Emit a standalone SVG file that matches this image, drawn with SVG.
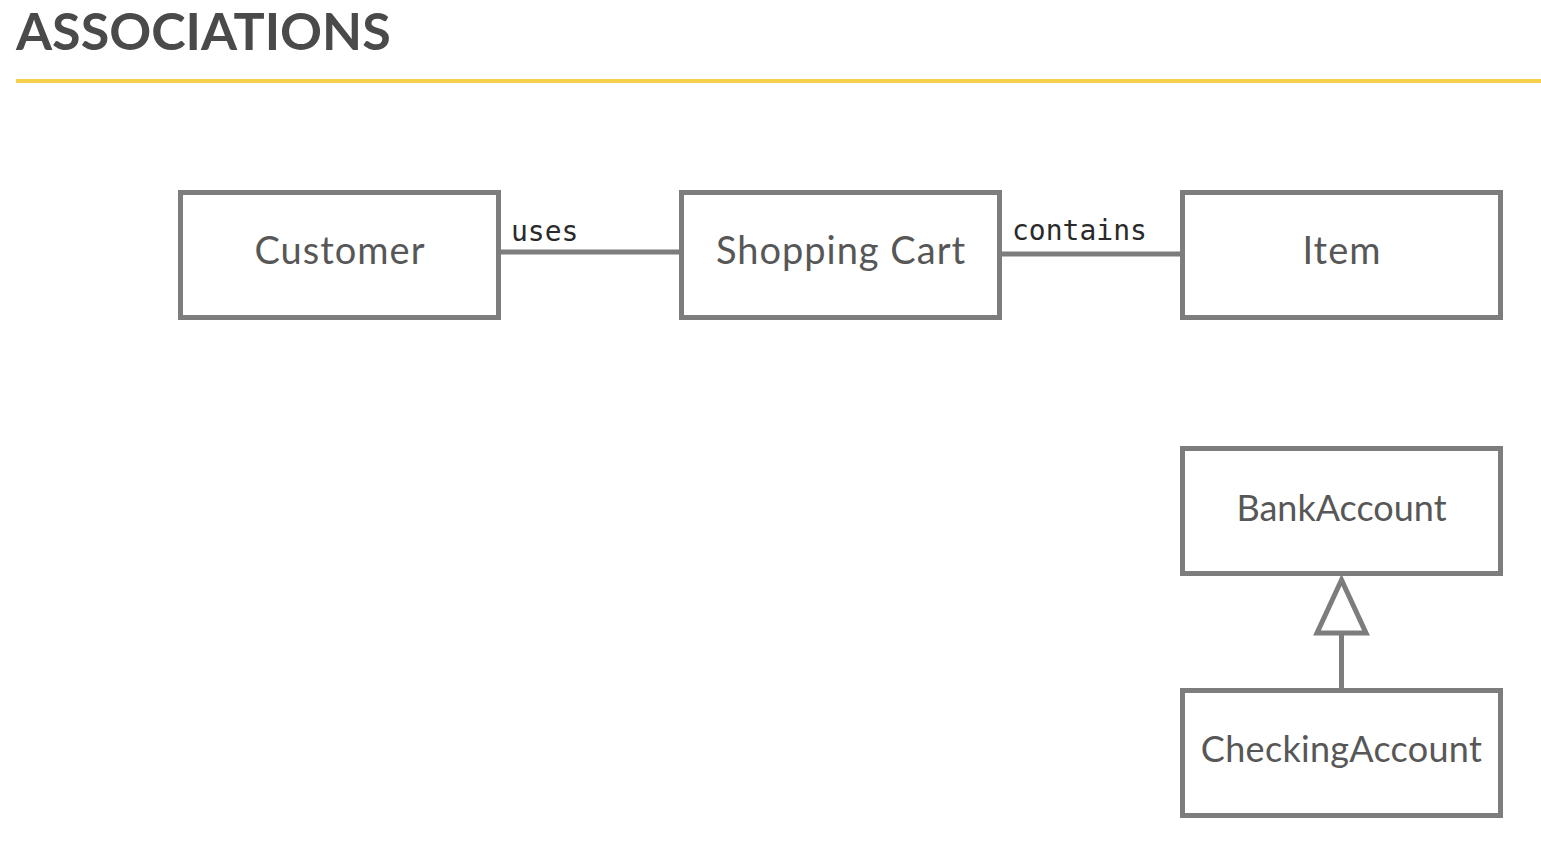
<svg xmlns="http://www.w3.org/2000/svg" width="1541" height="845" viewBox="0 0 1541 845">
<style>
.box{fill:#fff;stroke:#7d7d7d;stroke-width:5}
.lbl{font-family:Lato,"Noto Sans",sans-serif;font-size:36px;fill:#575757;text-anchor:middle}
.big{font-size:38px;letter-spacing:1px}
.rel{font-family:"DejaVu Sans Mono","Liberation Mono",monospace;font-size:28px;fill:#2a2a2a}
.con{stroke:#7d7d7d;stroke-width:5;fill:none}
</style>
<rect width="1541" height="845" fill="#fff"/>
<text x="16" y="50" font-family="Lato,'Noto Sans',sans-serif" font-size="52" font-weight="700" fill="#4a4a4a">ASSOCIATIONS</text>
<line x1="16" y1="81" x2="1541" y2="81" stroke="#f6cf4a" stroke-width="4"/>
<g id="customer"><rect class="box" x="180.5" y="192.5" width="318" height="125"/><text class="lbl big" x="340" y="264">Customer</text></g>
<g id="cart"><rect class="box" x="681.5" y="192.5" width="318" height="125"/><text class="lbl big" x="841" y="264">Shopping Cart</text></g>
<g id="item"><rect class="box" x="1182.5" y="192.5" width="318" height="125"/><text class="lbl big" x="1342" y="264">Item</text></g>
<g id="bank"><rect class="box" x="1182.5" y="448.5" width="318" height="125"/><text class="lbl" x="1341.5" y="521">BankAccount</text></g>
<g id="checking"><rect class="box" x="1182.5" y="690.5" width="318" height="125"/><text class="lbl" x="1341.5" y="762" letter-spacing="0.3">CheckingAccount</text></g>
<g id="connectors">
<line class="con" x1="501" y1="252" x2="679" y2="252"/>
<text class="rel" x="511" y="241">uses</text>
<line class="con" x1="1002" y1="254" x2="1180" y2="254"/>
<text class="rel" x="1012" y="240">contains</text>
<line class="con" x1="1341.5" y1="634" x2="1341.5" y2="688"/>
<polygon class="con" points="1341.5,580 1317,633 1366,633" style="fill:#fff"/>
</g>
</svg>
